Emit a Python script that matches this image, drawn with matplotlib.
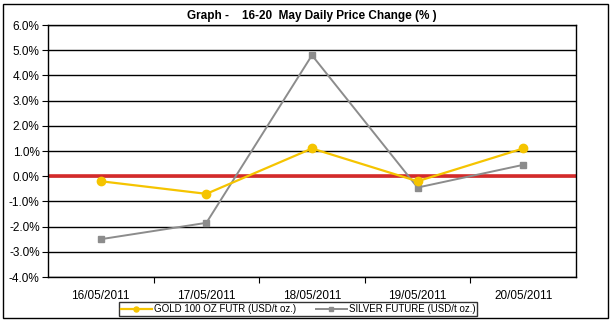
import matplotlib
matplotlib.use('Agg')
import matplotlib.pyplot as plt
from matplotlib.patches import Rectangle
from matplotlib.ticker import FuncFormatter, MultipleLocator

dates = ['16/05/2011', '17/05/2011', '18/05/2011', '19/05/2011', '20/05/2011']
gold = [-0.2, -0.7, 1.1, -0.2, 1.1]
silver = [-2.5, -1.85, 4.8, -0.45, 0.45]

plt.rcParams['font.family'] = ['Liberation Sans', 'DejaVu Sans']

fig = plt.figure(figsize=(6.12, 3.23), dpi=100)
ax = fig.add_axes([0.0784, 0.1424, 0.8627, 0.7802])

x = range(len(dates))
ax.plot(x, gold, color='#f5c400', marker='o', markersize=6, linewidth=1.6,
        label='GOLD 100 OZ FUTR (USD/t oz.)', zorder=4)
ax.plot(x, silver, color='#8c8c8c', marker='s', markersize=5, linewidth=1.4,
        label='SILVER FUTURE (USD/t oz.)', zorder=3)
ax.axhline(0, color='#d42a2a', linewidth=2.6, zorder=2)

ax.set_xlim(-0.5, len(dates) - 0.5)
ax.set_ylim(-4, 6)
ax.yaxis.set_major_locator(MultipleLocator(1))
ax.yaxis.set_major_formatter(FuncFormatter(lambda v, p: '%.1f%%' % v))
ax.grid(axis='y', color='black', linewidth=1)
ax.set_axisbelow(True)

# category labels between boundary ticks
ax.set_xticks([i + 0.5 for i in range(len(dates) - 1)])
ax.set_xticklabels([])
ax.set_xticks(list(x), minor=True)
ax.set_xticklabels(dates, minor=True, fontsize=8.5)
ax.tick_params(axis='x', which='minor', length=0, pad=9)
ax.tick_params(axis='x', which='major', length=4, direction='out')
ax.tick_params(axis='y', length=4, labelsize=8.5, pad=2)
for s in ax.spines.values():
    s.set_linewidth(1)

ax.set_title('Graph -    16-20  May Daily Price Change (% )', fontsize=8.5,
             fontweight='bold', pad=4)

handles, labels = ax.get_legend_handles_labels()
leg = fig.legend(handles, labels, loc='center', bbox_to_anchor=(0.487, 0.042),
                 ncol=2, fontsize=7, frameon=True, fancybox=False,
                 edgecolor='black', borderpad=0.2, handlelength=3.2,
                 columnspacing=2.0, handletextpad=0.2, markerscale=0.6)
leg.get_frame().set_linewidth(1)

fig.patches.append(Rectangle((3 / 612, 1 - 318 / 323), 605 / 612, 314 / 323,
                             transform=fig.transFigure, fill=False,
                             edgecolor='black', linewidth=1))

fig.savefig('out.png', dpi=100)
